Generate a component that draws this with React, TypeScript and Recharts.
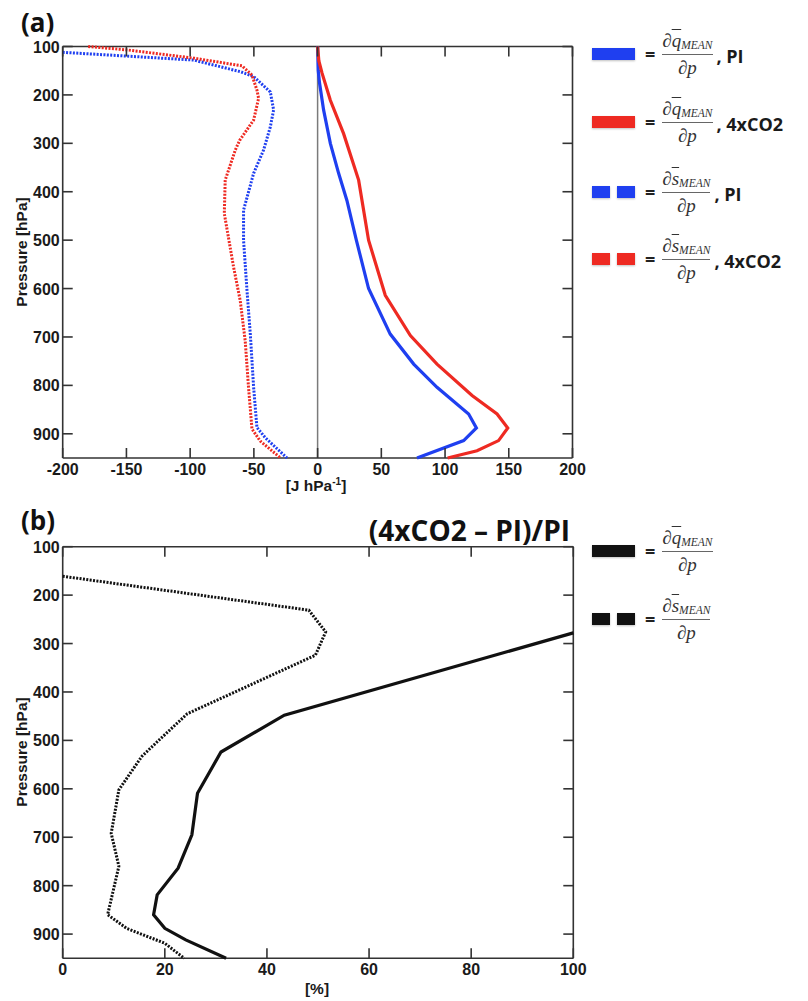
import React from "react";
import { ScatterChart, Scatter, XAxis, YAxis, ReferenceLine } from "recharts";

// (a) vertical gradients of q and s, [J hPa^-1], against pressure [hPa]
const qPiP = [100, 150, 175, 231, 300, 362, 418, 500, 600, 694, 756, 804, 859, 888, 914, 950];
const qPiV = [0, 0.5, 1.5, 4.7, 10, 16.5, 23, 30.4, 40, 57, 75.4, 93.7, 118.5, 124.6, 114.6, 78];

const q4xP = [100, 130, 155, 211, 280, 376, 500, 614, 697, 756, 821, 859, 888, 914, 935, 950];
const q4xV = [0, 1, 3.5, 10, 20.4, 32.2, 40, 53.1, 72.8, 93.7, 121.2, 140.8, 149.2, 142, 125.1, 102];

const sPiP = [112, 128, 152, 162, 194, 231, 266, 314, 362, 438, 500, 604, 694, 804, 887, 908, 950];
const sPiV = [-200, -97.3, -60.7, -50.2, -37.1, -34.5, -37.1, -42.4, -50.2, -58.1, -58.1, -55.4, -52.8, -50.2, -47.6, -41.1, -24];

const s4xP = [100, 107, 124, 140, 159, 190, 207, 252, 294, 314, 376, 445, 556, 625, 708, 804, 890, 915, 950];
const s4xV = [-180, -149.6, -97.3, -59.3, -51.5, -47.6, -46.3, -50.2, -61.2, -64.6, -72.5, -73.2, -65.9, -60.7, -56.8, -54.2, -51.5, -45, -29];

// (b) relative change (4xCO2 - PI)/PI in %
const dqP = [278, 448, 524, 609, 695, 764, 819, 860, 888, 912, 950];
const dqV = [100, 43.4, 31, 26.4, 25.3, 22.6, 18.5, 17.8, 20, 24.1, 32];

const dsP = [161, 231, 276, 324, 445, 499, 533, 602, 692, 760, 860, 888, 919, 950];
const dsV = [0, 48.2, 51.5, 49.5, 24.4, 18.9, 15.5, 11, 9.5, 11, 8.8, 12.5, 20, 23.8];

const pTicks = [100, 200, 300, 400, 500, 600, 700, 800, 900];
const aTicks = [-200, -150, -100, -50, 0, 50, 100, 150, 200];
const bTicks = [0, 20, 40, 60, 80, 100];

const BLUE = "#1f3ff0";
const RED = "#ee2a22";
const BLACK = "#111";
const AXIS = "#333";
const DOTS = "2 1.4";

const toPoints = (p: number[], v: number[]) => p.map((pp, i) => ({ p: pp, v: v[i] }));

const W = 600;
const H = 500;
const X_AXIS_H = 30;
const Y_AXIS_W = 50;
const TICK_LEN = 10;

type Frame = { left: number; top: number; right: number; bottom: number };
type Margin = { top: number; right: number; bottom: number; left: number };

const frameOf = (m: Margin): Frame => ({
  left: m.left + Y_AXIS_W,
  top: m.top,
  right: W - m.right,
  bottom: H - m.bottom - X_AXIS_H,
});

const tickText = {
  fontFamily: "'Liberation Sans', Arial, sans-serif",
  fontWeight: 700,
  fontSize: 16,
  fill: "#1a1a1a",
};

// ticks point inward on all four sides of the box
const xTick = (f: Frame) => (props: any) => {
  const { x, payload } = props;
  return (
    <g>
      <line x1={x} x2={x} y1={f.bottom} y2={f.bottom - TICK_LEN} stroke={AXIS} strokeWidth={1.6} />
      <line x1={x} x2={x} y1={f.top} y2={f.top + TICK_LEN} stroke={AXIS} strokeWidth={1.6} />
      <text x={x} y={f.bottom + 17} textAnchor="middle" {...tickText}>
        {payload.value}
      </text>
    </g>
  );
};

const yTick = (f: Frame) => (props: any) => {
  const { y, payload } = props;
  return (
    <g>
      <line x1={f.left} x2={f.left + TICK_LEN} y1={y} y2={y} stroke={AXIS} strokeWidth={1.6} />
      <line x1={f.right} x2={f.right - TICK_LEN} y1={y} y2={y} stroke={AXIS} strokeWidth={1.6} />
      <text x={f.left - 3} y={y + 6} textAnchor="end" {...tickText}>
        {payload.value}
      </text>
    </g>
  );
};

const noDot = () => <g />;

type Series = { p: number[]; v: number[]; color: string; dotted: boolean };

function ProfilePanel({
  margin,
  xDomain,
  xTicks,
  series,
  zeroLine,
}: {
  margin: Margin;
  xDomain: [number, number];
  xTicks: number[];
  series: Series[];
  zeroLine: boolean;
}) {
  const f = frameOf(margin);
  return (
    <ScatterChart width={W} height={H} margin={margin}>
      <XAxis
        type="number"
        dataKey="v"
        domain={xDomain}
        ticks={xTicks}
        interval={0}
        height={X_AXIS_H}
        tickLine={false}
        axisLine={{ stroke: AXIS, strokeWidth: 1.6 }}
        tick={xTick(f)}
      />
      <YAxis
        type="number"
        dataKey="p"
        domain={[100, 950]}
        reversed
        ticks={pTicks}
        interval={0}
        width={Y_AXIS_W}
        tickLine={false}
        axisLine={{ stroke: AXIS, strokeWidth: 1.6 }}
        tick={yTick(f)}
      />
      <ReferenceLine y={100} stroke={AXIS} strokeWidth={1.6} />
      <ReferenceLine x={xDomain[1]} stroke={AXIS} strokeWidth={1.6} />
      {zeroLine && <ReferenceLine x={0} stroke="#7a7a7a" strokeWidth={1.5} />}
      {series.map((s, i) => (
        <Scatter
          key={i}
          data={toPoints(s.p, s.v)}
          fill={s.color}
          shape={noDot}
          lineType="joint"
          line={{
            stroke: s.color,
            strokeWidth: s.dotted ? 3 : 3.2,
            strokeDasharray: s.dotted ? DOTS : undefined,
          }}
          isAnimationActive={false}
        />
      ))}
    </ScatterChart>
  );
}

const labelFont = "'Liberation Sans', Arial, sans-serif";
const titleFont = "'Open Sans', 'Liberation Sans', sans-serif";

function Fraction({ sym }: { sym: string }) {
  return (
    <span
      style={{
        display: "inline-flex",
        flexDirection: "column",
        alignItems: "center",
        fontFamily: "'Liberation Serif', 'DejaVu Serif', serif",
        color: "#333",
        lineHeight: 1,
        marginLeft: 7,
      }}
    >
      <span style={{ fontSize: 19, paddingBottom: 2, whiteSpace: "nowrap" }}>
        ∂<span style={{ fontStyle: "italic", textDecoration: "overline" }}>{sym}</span>
        <span style={{ fontStyle: "italic", fontSize: 11.5, verticalAlign: "-2px" }}>MEAN</span>
      </span>
      <span style={{ alignSelf: "stretch", borderTop: "1px solid #666" }} />
      <span style={{ fontSize: 19, paddingTop: 3 }}>
        ∂<span style={{ fontStyle: "italic" }}>p</span>
      </span>
    </span>
  );
}

type LegendRow = { y: number; color: string; dotted: boolean; sym: string; tag: string };

const legendRows: LegendRow[] = [
  { y: 54, color: BLUE, dotted: false, sym: "q", tag: ", PI" },
  { y: 122, color: RED, dotted: false, sym: "q", tag: ", 4xCO2" },
  { y: 192, color: BLUE, dotted: true, sym: "s", tag: ", PI" },
  { y: 259, color: RED, dotted: true, sym: "s", tag: ", 4xCO2" },
  { y: 551, color: BLACK, dotted: false, sym: "q", tag: "" },
  { y: 619, color: BLACK, dotted: true, sym: "s", tag: "" },
];

function Swatch({ color, dotted }: { color: string; dotted: boolean }) {
  const box = { height: 12, background: color, boxShadow: "0 1px 2px rgba(0,0,0,0.25)" };
  if (!dotted) return <span style={{ ...box, width: 43, display: "inline-block" }} />;
  return (
    <span style={{ display: "inline-flex", gap: 7 }}>
      <span style={{ ...box, width: 18 }} />
      <span style={{ ...box, width: 18 }} />
    </span>
  );
}

function Legend() {
  return (
    <>
      {legendRows.map((r, i) => (
        <div
          key={i}
          style={{
            position: "absolute",
            left: 592,
            top: r.y - 30,
            height: 60,
            display: "flex",
            alignItems: "center",
          }}
        >
          <Swatch color={r.color} dotted={r.dotted} />
          <span style={{ fontFamily: titleFont, fontWeight: 700, fontSize: 18, marginLeft: 10, color: "#222" }}>=</span>
          <Fraction sym={r.sym} />
          {r.tag && (
            <span
              style={{
                fontFamily: titleFont,
                fontWeight: 700,
                fontSize: 18,
                marginLeft: 4,
                marginTop: 4,
                color: "#1a1a1a",
                whiteSpace: "nowrap",
              }}
            >
              {r.tag}
            </span>
          )}
        </div>
      ))}
    </>
  );
}

export default function App() {
  const marginA: Margin = { top: 46.5, right: 27.5, bottom: 12, left: 12.7 };
  const marginB: Margin = { top: 46.7, right: 26.7, bottom: 11.7, left: 12.7 };

  const seriesA: Series[] = [
    { p: sPiP, v: sPiV, color: BLUE, dotted: true },
    { p: s4xP, v: s4xV, color: RED, dotted: true },
    { p: qPiP, v: qPiV, color: BLUE, dotted: false },
    { p: q4xP, v: q4xV, color: RED, dotted: false },
  ];
  const seriesB: Series[] = [
    { p: dsP, v: dsV, color: BLACK, dotted: true },
    { p: dqP, v: dqV, color: BLACK, dotted: false },
  ];

  const axisLabel = { fontFamily: labelFont, fontWeight: 700, fontSize: 15.5, fill: "#1a1a1a" };
  const panelTag = { fontFamily: titleFont, fontWeight: 700, fontSize: 26, fill: "#111" };

  return (
    <div style={{ position: "absolute", left: 0, top: 0, width: 808, height: 1001, background: "#fff" }}>
      <div style={{ position: "absolute", left: 0, top: 0 }}>
        <ProfilePanel margin={marginA} xDomain={[-200, 200]} xTicks={aTicks} series={seriesA} zeroLine />
      </div>
      <div style={{ position: "absolute", left: 0, top: 500 }}>
        <ProfilePanel margin={marginB} xDomain={[0, 100]} xTicks={bTicks} series={seriesB} zeroLine={false} />
      </div>
      <svg width={808} height={1001} style={{ position: "absolute", left: 0, top: 0, pointerEvents: "none" }}>
        <text x={21} y={32} {...panelTag}>(a)</text>
        <text x={21} y={530} {...panelTag}>(b)</text>
        <text x={570} y={541} textAnchor="end" {...panelTag} fontSize={28}>
          (4xCO2 – PI)/PI
        </text>
        <text transform="translate(27,252) rotate(-90)" textAnchor="middle" {...axisLabel}>
          Pressure [hPa]
        </text>
        <text transform="translate(27,752) rotate(-90)" textAnchor="middle" {...axisLabel}>
          Pressure [hPa]
        </text>
        <text x={316} y={491} textAnchor="middle" {...axisLabel}>
          [J hPa
          <tspan dy={-6} fontSize={10}>-1</tspan>
          <tspan dy={6}>]</tspan>
        </text>
        <text x={317} y={994} textAnchor="middle" {...axisLabel}>
          [%]
        </text>
      </svg>
      <Legend />
    </div>
  );
}
